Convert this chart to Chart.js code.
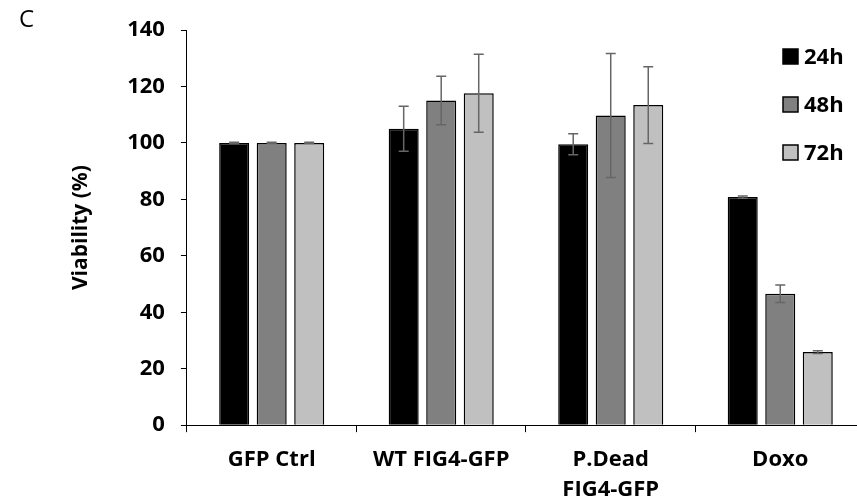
<!DOCTYPE html>
<html>
<head>
<meta charset="utf-8">
<script src="https://cdn.jsdelivr.net/npm/chart.js@4.4.1/dist/chart.umd.min.js"></script>
<style>
  html, body { margin: 0; padding: 0; background: #fff; overflow: hidden; }
  #wrap { position: relative; width: 870px; height: 518px; }
</style>
</head>
<body>
<div id="wrap"><canvas id="chartViability"></canvas></div>
<script>
// Cell viability per construct at 24/48/72 h
const groups = ['GFP Ctrl', 'WT FIG4-GFP', ['P.Dead', 'FIG4-GFP'], 'Doxo'];
const seriesLabels = ['24h', '48h', '72h'];
const seriesColors = ['#000000', '#808080', '#c0c0c0'];

const viab24 = [100, 105.0, 99.5, 80.8];
const viab48 = [100, 115.0, 109.7, 46.6];
const viab72 = [100, 117.6, 113.4, 25.9];

const err24 = [0.2, 8.0, 3.7, 0.4];
const err48 = [0.2, 8.6, 22.0, 3.1];
const err72 = [0.2, 13.8, 13.6, 0.5];

const yTicks = [0, 20, 40, 60, 80, 100, 120, 140];

const FONT = "'Open Sans', sans-serif";
const errors = [err24, err48, err72];

// error bars, drawn on top of each bar
const errorBars = {
  id: 'errorBars',
  afterDatasetsDraw(chart) {
    const ctx = chart.ctx;
    const y = chart.scales.y;
    ctx.save();
    ctx.strokeStyle = '#666666';
    ctx.lineWidth = 1.5;
    chart.data.datasets.forEach((ds, di) => {
      const meta = chart.getDatasetMeta(di);
      meta.data.forEach((bar, i) => {
        const v = ds.data[i], e = errors[di][i];
        const top = y.getPixelForValue(v + e);
        const bot = y.getPixelForValue(v - e);
        ctx.beginPath();
        ctx.moveTo(bar.x, top); ctx.lineTo(bar.x, bot);
        ctx.moveTo(bar.x - 5, top); ctx.lineTo(bar.x + 5, top);
        ctx.moveTo(bar.x - 5, bot); ctx.lineTo(bar.x + 5, bot);
        ctx.stroke();
      });
    });
    ctx.restore();
  }
};

// legend inside the plot area, top right, plus the panel letter
const sideLegend = {
  id: 'sideLegend',
  afterDraw(chart) {
    const ctx = chart.ctx;
    ctx.save();
    ctx.font = '700 22px ' + FONT;
    ctx.textBaseline = 'middle';
    ctx.textAlign = 'left';
    chart.data.datasets.forEach((ds, i) => {
      const cy = 56.5 + i * 48;
      ctx.fillStyle = ds.backgroundColor;
      ctx.fillRect(783, cy - 7.5, 15, 15);
      ctx.strokeStyle = '#000';
      ctx.lineWidth = 1.5;
      ctx.strokeRect(783, cy - 7.5, 15, 15);
      ctx.fillStyle = '#000';
      ctx.fillText(ds.label, 804, cy + 1);
    });
    ctx.font = '400 24px ' + FONT;
    ctx.textBaseline = 'top';
    ctx.fillText('C', 19, 8);
    ctx.restore();
  }
};

const vals = [viab24, viab48, viab72];

new Chart(document.getElementById('chartViability').getContext('2d'), {
  type: 'bar',
  data: {
    labels: groups,
    datasets: seriesLabels.map((label, i) => ({
      label: label,
      data: vals[i],
      backgroundColor: seriesColors[i],
      borderColor: '#000',
      borderWidth: 1.5,
      categoryPercentage: 0.664,
      barPercentage: 0.8
    }))
  },
  options: {
    responsive: true,
    maintainAspectRatio: false,
    animation: false,
    layout: { padding: { top: 30, right: 5, bottom: 0, left: 68 } },
    plugins: {
      legend: { display: false },
      tooltip: { enabled: false }
    },
    scales: {
      x: {
        grid: { display: true, drawOnChartArea: false, drawTicks: true, tickLength: 7, color: '#000', lineWidth: 1 },
        border: { display: true, color: '#000', width: 1 },
        ticks: {
          color: '#000',
          padding: 13,
          maxRotation: 0,
          autoSkip: false,
          font: { family: FONT, size: 22, weight: '700', lineHeight: 1.36 }
        }
      },
      y: {
        min: 0,
        max: 140,
        afterBuildTicks(scale) { scale.ticks = yTicks.map(v => ({ value: v })); },
        grid: { display: true, drawOnChartArea: false, drawTicks: true, tickLength: 6, color: '#000', lineWidth: 1 },
        border: { display: true, color: '#000', width: 1 },
        ticks: {
          color: '#000',
          padding: 16,
          font: { family: FONT, size: 22, weight: '700' }
        },
        title: {
          display: true,
          text: 'Viability (%)',
          color: '#000',
          padding: { top: 0, bottom: 18 },
          font: { family: FONT, size: 21, weight: '700' }
        }
      }
    }
  },
  plugins: [errorBars, sideLegend]
});
</script>
</body>
</html>
